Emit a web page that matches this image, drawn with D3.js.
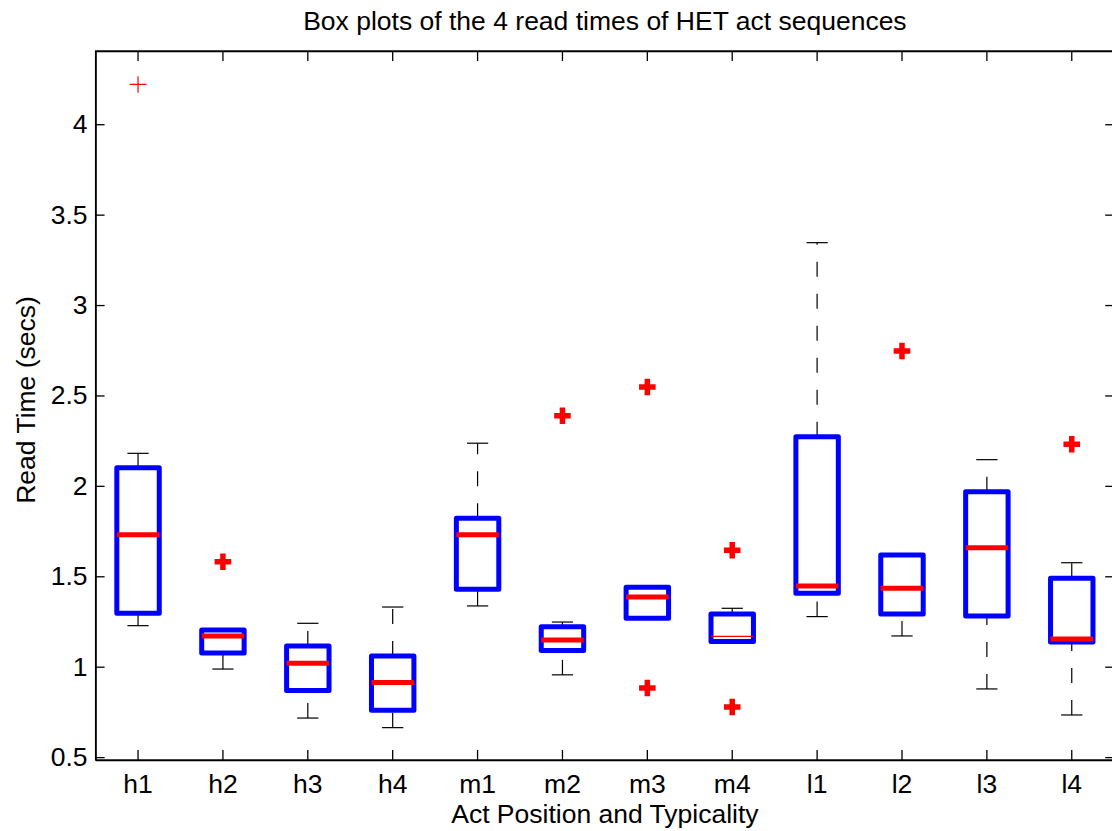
<!DOCTYPE html>
<html>
<head>
<meta charset="utf-8">
<script src="https://cdn.jsdelivr.net/npm/d3@7"></script>
<style>
  body { margin: 0; background: white; }
  text { font-family: "Liberation Sans", Arial, sans-serif; fill: black; }
</style>
</head>
<body>
<svg id="chart" width="1112" height="831"></svg>
<script>
// ================ data ================
var categories = ["h1", "h2", "h3", "h4", "m1", "m2", "m3", "m4", "l1", "l2", "l3", "l4"];
var whiskerLow = [1.227, 0.987, 0.716, 0.663, 1.336, 0.955, 1.268, 1.14, 1.277, 1.17, 0.877, 0.733];
var q1 = [1.295, 1.076, 0.869, 0.759, 1.428, 1.09, 1.268, 1.14, 1.406, 1.291, 1.28, 1.137];
var medians = [1.73, 1.17, 1.019, 0.912, 1.73, 1.148, 1.385, 1.168, 1.446, 1.434, 1.658, 1.153];
var q3 = [2.1, 1.203, 1.115, 1.059, 1.821, 1.221, 1.439, 1.291, 2.272, 1.618, 1.968, 1.489];
var whiskerHigh = [2.18, 1.203, 1.24, 1.33, 2.236, 1.247, 1.439, 1.323, 3.345, 1.618, 2.145, 1.575];
var outlierCats = ["h1", "h2", "m2", "m3", "m3", "m4", "m4", "l2", "l4"];
var outlierValues = [4.22, 1.58, 2.388, 2.547, 0.882, 1.644, 0.777, 2.746, 2.23];
var yTicks = [0.5, 1, 1.5, 2, 2.5, 3, 3.5, 4];

var svg = d3.select("#chart");

// plot area (window.top is reserved, so use plot* names)
var plotLeft = 95.6, plotRight = 1114.2, plotTop = 51, plotBottom = 760;
var fontSize = "26.5px";

var x = d3.scaleBand().domain(categories).range([plotLeft, plotRight]).padding(0);
var y = d3.scaleLinear().domain([0.484, 4.405]).range([plotBottom, plotTop]);
var bw = x.bandwidth();
var cx = (c) => x(c) + bw / 2;

var boxes = categories.map((c, i) => ({
  cat: c,
  lo: whiskerLow[i],
  q1: q1[i],
  med: medians[i],
  q3: q3[i],
  hi: whiskerHigh[i],
}));

// ================ axes (ticks point inward, mirrored) ================
svg
  .append("g")
  .attr("transform", `translate(${plotLeft},0)`)
  .call(d3.axisLeft(y).tickValues(yTicks).tickSizeInner(-9).tickSizeOuter(0).tickPadding(8).tickFormat(d3.format("")));
svg
  .append("g")
  .attr("transform", `translate(${plotRight},0)`)
  .call(d3.axisRight(y).tickValues(yTicks).tickSizeInner(-9).tickSizeOuter(0).tickFormat(""));

svg
  .append("g")
  .attr("transform", `translate(0,${plotBottom})`)
  .call(d3.axisBottom(x).tickSizeInner(-10).tickSizeOuter(0).tickPadding(14));
svg
  .append("g")
  .attr("transform", `translate(0,${plotTop})`)
  .call(d3.axisTop(x).tickSizeInner(-10).tickSizeOuter(0).tickFormat(""));

svg.selectAll(".tick text").style("font-size", fontSize).attr("fill", "black");
svg.selectAll(".domain, .tick line").attr("stroke", "black").attr("stroke-width", 1.3);

// frame
svg
  .append("rect")
  .attr("x", plotLeft)
  .attr("y", plotTop)
  .attr("width", plotRight - plotLeft)
  .attr("height", plotBottom - plotTop)
  .attr("fill", "none")
  .attr("stroke", "black")
  .attr("stroke-width", 1.3);

// ================ whiskers ================
var wg = svg.append("g").attr("stroke", "black").attr("stroke-width", 1.2).attr("fill", "none");

// upper whisker drawn from box upward, lower drawn from end up to box
wg.selectAll(".wup")
  .data(boxes)
  .enter()
  .append("line")
  .attr("x1", (d) => cx(d.cat))
  .attr("x2", (d) => cx(d.cat))
  .attr("y1", (d) => y(d.q3))
  .attr("y2", (d) => y(d.hi))
  .attr("stroke-dasharray", "15,17");
wg.selectAll(".wdn")
  .data(boxes)
  .enter()
  .append("line")
  .attr("x1", (d) => cx(d.cat))
  .attr("x2", (d) => cx(d.cat))
  .attr("y1", (d) => y(d.lo))
  .attr("y2", (d) => y(d.q1))
  .attr("stroke-dasharray", "15,17");

var capW = bw * 0.125;
["hi", "lo"].forEach((k) => {
  wg.selectAll(".cap-" + k)
    .data(boxes)
    .enter()
    .append("line")
    .attr("x1", (d) => cx(d.cat) - capW)
    .attr("x2", (d) => cx(d.cat) + capW)
    .attr("y1", (d) => y(d[k]))
    .attr("y2", (d) => y(d[k]));
});

// ================ boxes ================
var halfBox = bw * 0.25;
svg
  .append("g")
  .selectAll("rect")
  .data(boxes)
  .enter()
  .append("rect")
  .attr("x", (d) => cx(d.cat) - halfBox)
  .attr("width", halfBox * 2)
  .attr("y", (d) => y(d.q3))
  .attr("height", (d) => y(d.q1) - y(d.q3))
  .attr("fill", "none")
  .attr("stroke", "#0000ff")
  .attr("stroke-width", 5)
  .attr("stroke-linejoin", "round");

// medians (m4 median came out as a thin line in the original)
var thinMedian = ["m4"];
svg
  .append("g")
  .selectAll("line")
  .data(boxes)
  .enter()
  .append("line")
  .attr("x1", (d) => cx(d.cat) - halfBox)
  .attr("x2", (d) => cx(d.cat) + halfBox)
  .attr("y1", (d) => y(d.med))
  .attr("y2", (d) => y(d.med))
  .attr("stroke", "#ff0000")
  .attr("stroke-width", (d) => (thinMedian.includes(d.cat) ? 1.2 : 5));

// ================ outliers ================
var thinOutlier = ["h1"];
var ps = 8.3;
svg
  .append("g")
  .selectAll("path")
  .data(outlierValues.map((v, i) => ({ cat: outlierCats[i], v: v })))
  .enter()
  .append("path")
  .attr("d", (d) => {
    var px = cx(d.cat), py = y(d.v);
    return `M${px - ps},${py}H${px + ps}M${px},${py - ps}V${py + ps}`;
  })
  .attr("stroke", "#ff0000")
  .attr("fill", "none")
  .attr("stroke-width", (d) => (thinOutlier.includes(d.cat) ? 1.2 : 5.5));

// ================ titles ================
svg
  .append("text")
  .text("Box plots of the 4 read times of HET act sequences")
  .attr("x", (plotLeft + plotRight) / 2)
  .attr("y", 30)
  .style("text-anchor", "middle")
  .style("font-size", fontSize);

svg
  .append("text")
  .text("Act Position and Typicality")
  .attr("x", (plotLeft + plotRight) / 2)
  .attr("y", 823)
  .style("text-anchor", "middle")
  .style("font-size", fontSize);

svg
  .append("text")
  .text("Read Time (secs)")
  .attr("transform", "translate(35,400) rotate(-90)")
  .style("text-anchor", "middle")
  .style("font-size", fontSize);
</script>
</body>
</html>
